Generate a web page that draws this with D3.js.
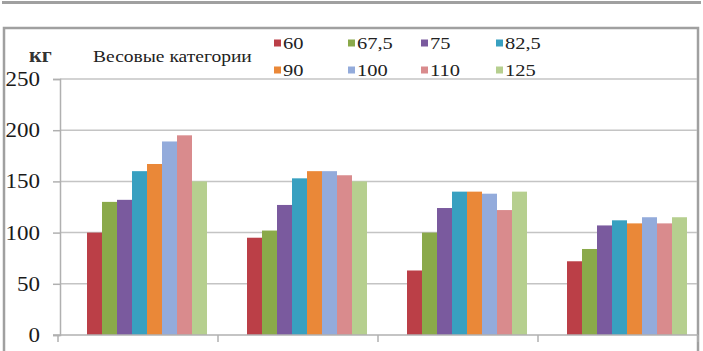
<!DOCTYPE html>
<html><head><meta charset="utf-8">
<script src="https://cdn.jsdelivr.net/npm/d3@7"></script>
<style>html,body{margin:0;padding:0;background:#fff;overflow:hidden}svg{display:block}</style>
</head><body>
<script>
const categories = ["A", "B", "C", "D"];
const seriesNames = ["60", "67,5", "75", "82,5", "90", "100", "110", "125"];
const seriesColors = ["#bb3f47", "#8aa94a", "#7a5a9e", "#38a0c0", "#ea8838", "#93abdb", "#d98b8d", "#b6cf8f"];
const values = [
  [100, 130, 132, 160, 167, 189, 195, 150],
  [95, 102, 127, 153, 160, 160, 156, 150],
  [63, 100, 124, 140, 140, 138, 122, 140],
  [72, 84, 107, 112, 109, 115, 109, 115]
];
const yTicks = [0, 50, 100, 150, 200, 250];
const yUnit = "кг";
const legendTitle = "Весовые категории";

const W = 703, H = 351;
const svg = d3.select("body").append("svg").attr("width", W).attr("height", H);
const font = "Liberation Serif, DejaVu Serif, Times New Roman, serif";

// outer frames
svg.append("line").attr("x1", 2).attr("x2", 701).attr("y1", 2.5).attr("y2", 2.5)
  .attr("stroke", "#a0a0a0").attr("stroke-width", 3);
svg.append("rect").attr("x", 4).attr("y", 28).attr("width", 694).attr("height", 360)
  .attr("fill", "none").attr("stroke", "#a0a0a0").attr("stroke-width", 2.5);

const y = d3.scaleLinear().domain([0, 250]).range([335, 79]);
const x = d3.scaleBand().domain(categories).range([58, 698])
  .paddingInner(0.25).paddingOuter(0.125).align(0.725);
const xs = d3.scaleBand().domain(seriesNames).range([0, x.bandwidth()]);

// gridlines
svg.append("g").selectAll("line").data(yTicks.filter(d => d > 0)).join("line")
  .attr("x1", 60).attr("x2", 697).attr("y1", d => y(d)).attr("y2", d => y(d))
  .attr("stroke", "#c4c4c4").attr("stroke-width", 1.5);

// y axis
const yAxis = svg.append("g").attr("transform", "translate(60,0)")
  .call(d3.axisLeft(y).tickValues(yTicks).tickSize(7).tickFormat(""));
yAxis.select(".domain").attr("stroke", "#b0b0b0").attr("stroke-width", 1.5);
yAxis.selectAll(".tick line").attr("stroke", "#b0b0b0").attr("stroke-width", 1.5);

svg.append("g").selectAll("text").data(yTicks).join("text")
  .attr("transform", d => `translate(40,${y(d) + 7}) scale(1.15,1)`)
  .attr("text-anchor", "end").style("font-family", font).attr("font-size", 20)
  .attr("fill", "#1a1a1a").text(d => d);

// bars
const groups = svg.append("g").selectAll("g").data(categories).join("g")
  .attr("transform", d => `translate(${x(d)},0)`);
groups.selectAll("rect").data((c, i) => values[i].map((v, j) => ({v, s: seriesNames[j], j})))
  .join("rect")
  .attr("x", d => xs(d.s)).attr("width", xs.bandwidth())
  .attr("y", d => y(d.v)).attr("height", d => y(0) - y(d.v))
  .attr("fill", d => seriesColors[d.j]);

// x axis
svg.append("line").attr("x1", 53).attr("x2", 698).attr("y1", y(0)).attr("y2", y(0))
  .attr("stroke", "#b0b0b0").attr("stroke-width", 1.5);
svg.append("g").selectAll("line").data(d3.range(categories.length + 1)).join("line")
  .attr("x1", i => x.range()[0] + i * x.step()).attr("x2", i => x.range()[0] + i * x.step())
  .attr("y1", y(0)).attr("y2", y(0) + 7)
  .attr("stroke", "#b0b0b0").attr("stroke-width", 1.5);

// unit label
svg.append("text").attr("transform", "translate(29,62) scale(1.1,1)")
  .style("font-family", font).attr("font-size", 20).attr("font-weight", "bold")
  .attr("fill", "#333").text(yUnit);

// legend title
svg.append("text").attr("transform", "translate(93,62) scale(1.22,1)")
  .style("font-family", font).attr("font-size", 16).attr("fill", "#222").text(legendTitle);

// legend
const legX = [274, 348, 421, 496];
const legY = [43, 70];
const leg = svg.append("g").selectAll("g").data(seriesNames).join("g")
  .attr("transform", (d, i) => `translate(${legX[i % 4]},${legY[Math.floor(i / 4)]})`);
leg.append("rect").attr("x", 0).attr("y", -3.5).attr("width", 7).attr("height", 7)
  .attr("fill", (d, i) => seriesColors[i]);
leg.append("text").attr("transform", "translate(9,5.5) scale(1.28,1)")
  .style("font-family", font).attr("font-size", 16).attr("fill", "#222").text(d => d);
</script>
</body></html>
